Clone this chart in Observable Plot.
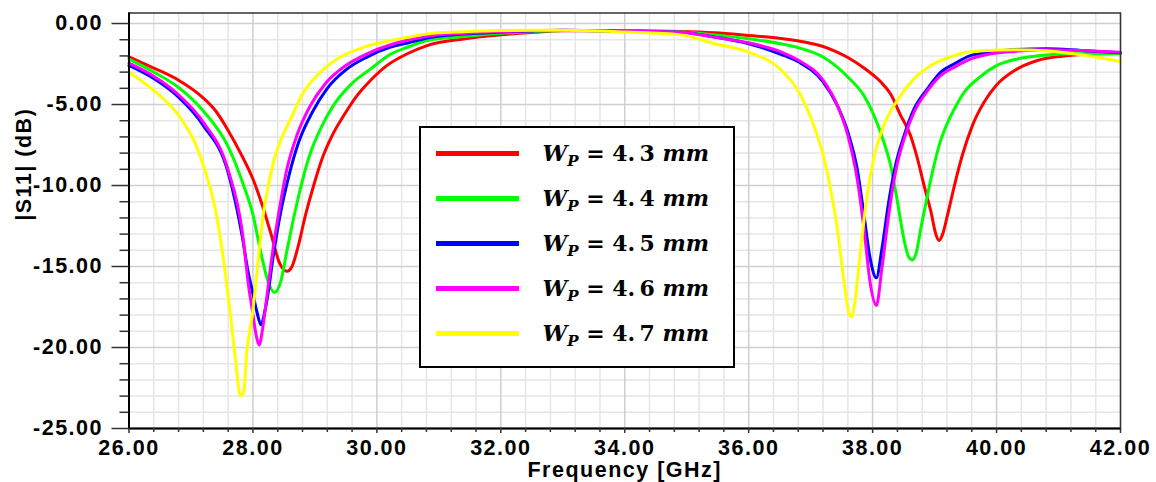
<!DOCTYPE html>
<html>
<head>
<meta charset="utf-8">
<script src="https://cdn.jsdelivr.net/npm/d3@7"></script>
<script src="https://cdn.jsdelivr.net/npm/@observablehq/plot@0.6"></script>
<style>
  html, body { margin: 0; padding: 0; background: #fff; }
  #wrap { position: relative; width: 1156px; height: 482px; }
  #legend { position: absolute; left: 419px; top: 126px; width: 316px; height: 242px;
            border: 2.5px solid #000; box-sizing: border-box; background: #fff; }
  .lg-line { position: absolute; left: 14.5px; width: 83px; height: 5px; }
  .lg-text { position: absolute; left: 121.5px; font-family: "DejaVu Serif", serif; font-weight: bold;
             font-size: 22px; line-height: 22px; white-space: nowrap; color: #000; }
  .lg-text i { font-style: italic; }
  .lg-text .sub { font-size: 15px; position: relative; top: 5px; font-style: italic; }
</style>
</head>
<body>
<div id="wrap"></div>
<script>
// ---- Data ----
const seriesNames = ["4.3", "4.4", "4.5", "4.6", "4.7"];
const seriesColors = ["#ff0000", "#00ff00", "#0000ff", "#ff00ff", "#ffff00"];

const freq43 = [26.0, 26.4, 26.8, 27.2, 27.4, 27.6, 27.8, 28.0, 28.15, 28.3, 28.42, 28.55, 28.63, 28.72, 28.85, 28.98, 29.12, 29.28, 29.47, 29.68, 29.9, 30.16, 30.5, 30.81, 31.4, 32.0, 32.5, 33.0, 34.0, 34.9, 35.45, 36.0, 36.52, 36.81, 37.05, 37.2, 37.4, 37.6, 37.86, 38.13, 38.29, 38.45, 38.61, 38.72, 38.83, 38.94, 39.02, 39.07, 39.13, 39.21, 39.32, 39.45, 39.61, 39.8, 40.0, 40.29, 40.66, 41.09, 41.52, 42.0];
const s11_43 = [-2.05, -2.75, -3.5, -4.6, -5.4, -6.6, -8.0, -9.6, -11.2, -13.1, -14.7, -15.3, -15.0, -13.9, -11.8, -10.0, -8.3, -6.9, -5.65, -4.45, -3.5, -2.6, -1.85, -1.36, -0.95, -0.7, -0.55, -0.45, -0.45, -0.49, -0.57, -0.74, -0.92, -1.08, -1.26, -1.42, -1.72, -2.1, -2.75, -3.6, -4.35, -5.65, -6.9, -8.3, -10.0, -11.6, -13.0, -13.4, -13.0, -11.8, -10.0, -8.1, -6.3, -4.85, -3.8, -2.9, -2.28, -2.0, -1.87, -1.8];

const freq44 = [26.0, 26.4, 26.8, 27.2, 27.6, 27.85, 28.0, 28.12, 28.25, 28.35, 28.45, 28.55, 28.61, 28.74, 28.9, 29.09, 29.3, 29.57, 29.9, 30.22, 30.5, 30.81, 31.4, 32.0, 32.5, 33.0, 34.0, 34.9, 35.45, 36.0, 36.52, 36.81, 37.2, 37.6, 37.86, 38.02, 38.18, 38.29, 38.4, 38.51, 38.58, 38.64, 38.7, 38.78, 38.89, 39.0, 39.1, 39.2, 39.32, 39.48, 39.7, 40.0, 40.34, 40.72, 41.2, 42.0];
const s11_44 = [-2.2, -3.0, -3.95, -5.4, -7.6, -10.0, -11.8, -14.0, -16.0, -16.6, -15.9, -14.0, -12.85, -10.6, -8.3, -6.5, -5.05, -3.8, -2.8, -1.9, -1.45, -1.05, -0.8, -0.6, -0.5, -0.43, -0.46, -0.52, -0.7, -0.94, -1.25, -1.5, -2.07, -3.3, -4.45, -5.65, -7.3, -8.75, -11.0, -13.4, -14.4, -14.6, -14.2, -12.6, -10.5, -8.6, -7.2, -6.2, -5.26, -4.23, -3.4, -2.6, -2.18, -1.97, -1.87, -1.87];

const freq45 = [26.0, 26.4, 26.8, 27.2, 27.6, 27.83, 27.92, 27.99, 28.07, 28.13, 28.19, 28.23, 28.33, 28.44, 28.58, 28.74, 28.96, 29.2, 29.52, 29.84, 30.22, 30.5, 30.81, 31.4, 32.0, 32.5, 33.0, 34.0, 34.9, 35.45, 36.0, 36.52, 36.81, 37.2, 37.43, 37.6, 37.75, 37.86, 37.96, 38.06, 38.15, 38.26, 38.37, 38.51, 38.67, 38.89, 39.1, 39.32, 39.59, 39.91, 40.29, 40.82, 41.36, 42.0];
const s11_45 = [-2.59, -3.4, -4.55, -6.3, -9.2, -13.2, -15.3, -16.5, -17.9, -18.6, -17.8, -17.0, -14.3, -11.8, -9.4, -7.3, -5.46, -4.0, -2.8, -2.07, -1.46, -1.2, -0.9, -0.65, -0.53, -0.46, -0.42, -0.47, -0.54, -0.84, -1.25, -1.9, -2.38, -3.6, -5.05, -6.7, -8.95, -11.8, -14.5, -15.7, -13.9, -11.0, -8.75, -6.9, -5.26, -4.0, -3.0, -2.48, -1.97, -1.77, -1.6, -1.56, -1.66, -1.8];

const freq46 = [26.0, 26.4, 26.8, 27.2, 27.6, 27.83, 27.93, 27.99, 28.05, 28.1, 28.15, 28.2, 28.31, 28.42, 28.55, 28.71, 28.93, 29.17, 29.5, 29.84, 30.22, 30.5, 30.81, 31.4, 32.0, 32.5, 33.0, 34.0, 34.9, 35.45, 36.0, 36.52, 36.81, 37.2, 37.43, 37.6, 37.75, 37.86, 37.96, 38.06, 38.15, 38.26, 38.37, 38.51, 38.67, 38.89, 39.1, 39.32, 39.59, 39.91, 40.29, 40.82, 41.36, 42.0];
const s11_46 = [-2.45, -3.26, -4.4, -6.1, -9.05, -12.9, -16.2, -17.7, -19.2, -19.85, -19.0, -17.6, -14.3, -11.6, -8.95, -6.9, -5.05, -3.7, -2.59, -1.87, -1.31, -1.02, -0.78, -0.6, -0.49, -0.44, -0.42, -0.47, -0.54, -0.84, -1.19, -1.75, -2.28, -3.5, -5.05, -6.9, -9.57, -12.65, -16.0, -17.4, -15.1, -11.8, -9.16, -7.1, -5.46, -4.13, -3.2, -2.69, -2.18, -1.87, -1.72, -1.62, -1.66, -1.77];

const freq47 = [26.0, 26.4, 26.8, 27.08, 27.2, 27.4, 27.5, 27.64, 27.72, 27.8, 27.85, 27.9, 27.99, 28.07, 28.17, 28.26, 28.35, 28.44, 28.61, 28.82, 29.09, 29.41, 29.79, 30.22, 30.5, 30.81, 31.4, 32.0, 32.5, 33.0, 34.0, 34.9, 35.45, 36.0, 36.52, 36.81, 37.05, 37.2, 37.32, 37.43, 37.54, 37.62, 37.66, 37.71, 37.78, 37.89, 38.02, 38.18, 38.4, 38.67, 38.99, 39.26, 39.48, 39.86, 40.29, 40.82, 41.36, 42.0];
const s11_47 = [-3.0, -4.13, -5.67, -7.5, -8.75, -11.6, -13.9, -18.1, -20.8, -23.0, -22.8, -20.3, -18.0, -15.2, -11.7, -9.8, -8.3, -7.3, -5.87, -4.23, -3.0, -2.07, -1.46, -1.05, -0.85, -0.64, -0.5, -0.43, -0.42, -0.42, -0.53, -0.7, -1.25, -1.77, -2.85, -4.23, -6.3, -8.1, -10.2, -12.65, -16.0, -17.9, -18.1, -17.3, -14.9, -11.2, -8.3, -6.3, -4.74, -3.4, -2.48, -2.05, -1.8, -1.66, -1.62, -1.7, -1.93, -2.34];

const xTicks = [26, 28, 30, 32, 34, 36, 38, 40, 42];
const yTicks = [-25, -20, -15, -10, -5, 0];
const xTitle = "Frequency [GHz]";
const yTitle = "|S11| (dB)";

// ---- Build ----
const freqs = [freq43, freq44, freq45, freq46, freq47];
const vals = [s11_43, s11_44, s11_45, s11_46, s11_47];
const rows = [];
seriesNames.forEach((s, i) => freqs[i].forEach((f, j) => rows.push({f, db: vals[i][j], s})));

const xMin = xTicks[0], xMax = xTicks[xTicks.length - 1];
const yMin = yTicks[0];
const xMinor = d3.range(xMin, xMax + 1e-9, 0.4).map(v => +v.toFixed(2)).filter(v => Math.abs(v / 2 - Math.round(v / 2)) > 1e-6);
const yMinor = d3.range(yMin, 0.5, 1).filter(v => v % 5 !== 0);

const fmt = d => d.toFixed(2);
const textFont = {fontFamily: "'Liberation Sans', Arial, sans-serif", fontWeight: "bold", fontSize: 21.5};

const chart = Plot.plot({
  width: 1156,
  height: 482,
  marginLeft: 128.5,
  marginRight: 36,
  marginTop: 12.5,
  marginBottom: 54,
  style: {fontFamily: "'Liberation Sans', Arial, sans-serif", fontSize: "21.5px", fontWeight: "bold", letterSpacing: "1.5px", background: "#fff", color: "#000", overflow: "visible"},
  x: {domain: [xMin, xMax]},
  y: {domain: [yMin, 0.65]},
  color: {domain: seriesNames, range: seriesColors},
  marks: [
    Plot.gridX(xMinor, {stroke: "#e6e6e6", strokeOpacity: 1, strokeWidth: 1.5}),
    Plot.gridY(yMinor, {stroke: "#e6e6e6", strokeOpacity: 1, strokeWidth: 1.5}),
    Plot.gridX(xTicks, {stroke: "#cfcfcf", strokeOpacity: 1, strokeWidth: 1.5}),
    Plot.gridY(yTicks, {stroke: "#cfcfcf", strokeOpacity: 1, strokeWidth: 1.5}),
    ...seriesNames.map(s => Plot.line(rows.filter(r => r.s === s), {x: "f", y: "db", stroke: "s", strokeWidth: 3, curve: "monotone-x"})),
    Plot.frame({stroke: "#333", strokeWidth: 1.5}),
    Plot.ruleX([xMin], {stroke: "#000", strokeWidth: 2}),
    Plot.ruleY([yMin], {stroke: "#000", strokeWidth: 2}),
    Plot.axisX(xMinor, {tickSize: 4, tickFormat: () => "", stroke: "#333", strokeWidth: 1.5, label: null}),
    Plot.axisX(xTicks, {tickSize: 5, tickPadding: 6, tickFormat: fmt, stroke: "#333", strokeWidth: 1.5, label: null}),
    Plot.axisY(yMinor, {tickSize: 9, tickFormat: () => "", stroke: "#333", strokeWidth: 1.5, label: null}),
    Plot.axisY(yTicks, {tickSize: 17, tickPadding: 9, tickFormat: fmt, stroke: "#333", strokeWidth: 1.5, label: null}),
    Plot.text([xTitle], {text: d => d, frameAnchor: "bottom", lineAnchor: "top", dy: 33, ...textFont}),
    Plot.text([yTitle], {text: d => d, frameAnchor: "left", rotate: -90, lineAnchor: "middle", dx: -105, ...textFont})
  ]
});

const wrap = document.getElementById("wrap");
wrap.appendChild(chart);

// ---- Legend ----
const legend = document.createElement("div");
legend.id = "legend";
seriesNames.forEach((s, i) => {
  const line = document.createElement("div");
  line.className = "lg-line";
  line.style.top = (23 + 45 * i) + "px";
  line.style.background = seriesColors[i];
  legend.appendChild(line);
  const t = document.createElement("div");
  t.className = "lg-text";
  t.style.top = (14 + 45 * i) + "px";
  const [a, b] = s.split(".");
  t.innerHTML = `<i>W</i><span class="sub">P</span> = ${a}.\u2009${b} <i>mm</i>`;
  legend.appendChild(t);
});
wrap.appendChild(legend);
</script>
</body>
</html>
